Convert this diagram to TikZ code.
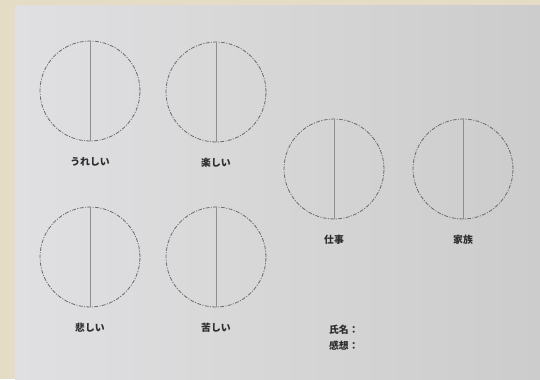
\documentclass[tikz,border=0pt]{standalone}
\usepackage{fontspec}
\newfontfamily\jpfont{Noto Sans CJK JP}
\usetikzlibrary{positioning}
\definecolor{paper}{RGB}{224,224,226}
\definecolor{paperdark}{RGB}{204,204,204}
\definecolor{desk}{RGB}{228,220,196}
\definecolor{ink}{RGB}{45,45,45}
\definecolor{rim}{RGB}{105,105,105}
\tikzset{
  ring/.style={circle, draw=rim, minimum size=2cm, inner sep=0pt,
    line width=0.45pt, dash pattern=on 2.2pt off 0.8pt on 0.6pt off 0.8pt},
  axis/.style={draw=rim!75, line width=0.5pt},
  tag/.style={font=\jpfont\bfseries\fontsize{5.6}{6}\selectfont, text=ink, inner sep=1pt}
}
\begin{document}
\begin{tikzpicture}[x=0.02cm, y=-0.02cm]
  % background: desk and paper sheet
  \useasboundingbox (0,0) rectangle (540,379);
  \fill[desk] (0,0) rectangle (540,379);
  \shade[left color=paper, right color=paperdark] (15,5) rectangle (540,379);

  % circles
  \node[ring] (joy) at (90,91) {};
  \node[ring] (fun) at (216,92) {};
  \node[ring] (work) at (334,169) {};
  \node[ring] (family) at (463,169) {};
  \node[ring] (sad) at (90,257) {};
  \node[ring] (pain) at (216,257) {};

  % dividing lines
  \foreach \c in {joy, fun, work, family, sad, pain}
    \draw[axis] (\c.north) -- (\c.south);

  % labels
  \node[tag, below=8pt of joy] (joylbl) {うれしい};
  \node[tag, below=8pt of fun] (funlbl) {楽しい};
  \node[tag, below=8pt of work] (worklbl) {仕事};
  \node[tag, below=8pt of family] (familylbl) {家族};
  \node[tag, below=8pt of sad] (sadlbl) {悲しい};
  \node[tag, below=8pt of pain] (painlbl) {苦しい};

  % name and comment fields
  \node[tag, anchor=west] (name) at (327,330) {氏名：};
  \node[tag, below=1pt of name.south west, anchor=north west] (note) {感想：};
\end{tikzpicture}
\end{document}
